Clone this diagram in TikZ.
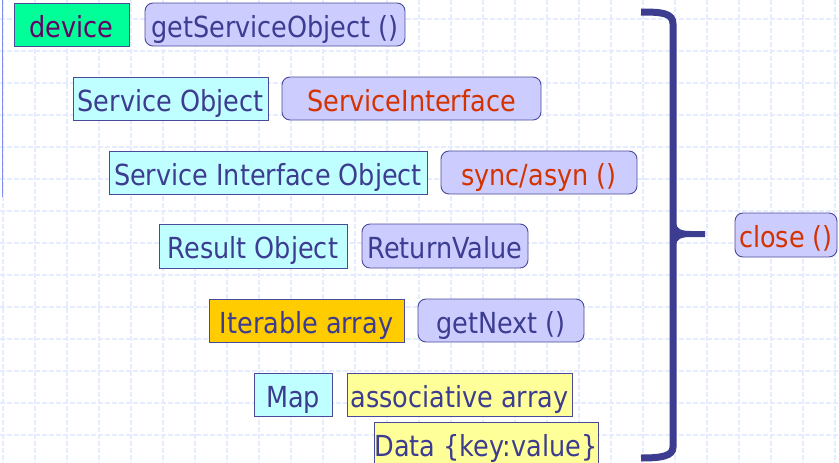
\documentclass[tikz,border=0pt]{standalone}
\usepackage{fontspec}
\setmainfont{DejaVu Sans}[FakeStretch=0.88]
\definecolor{ink}{HTML}{3C3C90}
\definecolor{edge}{HTML}{4A4A9A}
\definecolor{redtxt}{HTML}{D43300}
\definecolor{purptxt}{HTML}{660066}
\definecolor{mint}{HTML}{00FF99}
\definecolor{lav}{HTML}{CCCCFF}
\definecolor{aqua}{HTML}{C0FFFF}
\definecolor{amber}{HTML}{FFCC00}
\definecolor{lemon}{HTML}{FFFF99}
\definecolor{gridc}{HTML}{E6ECFF}
\definecolor{rule}{HTML}{7F8FF0}
\tikzset{
  box/.style={draw=edge, line width=0.9pt, inner sep=0pt, minimum height=43pt,
    text height=25pt, text depth=0pt, font=\fontsize{29}{31}\selectfont, text=ink},
  objbox/.style={box, fill=aqua},
  callbox/.style={box, fill=lav, rounded corners=8pt},
  databox/.style={box, fill=lemon},
}
\begin{document}
\begin{tikzpicture}[x=1pt,y=-1pt]
\useasboundingbox (0,0) rectangle (839,463);
% background grid
\foreach \gx in {3,35,...,835}
  \draw[gridc, line width=1.2pt, dash pattern=on 5pt off 2pt] (\gx,0) -- (\gx,463);
\foreach \gy in {19,51,...,435}
  \draw[gridc, line width=1.2pt, dash pattern=on 5pt off 2pt] (0,\gy) -- (839,\gy);
% left margin rule
\coordinate (ruletop) at (2.5,0);
\coordinate (rulebot) at (2.5,197);
\draw[rule, line width=1.4pt] (ruletop) -- (rulebot);

% rows of objects and their calls
\node[box, fill=mint, text=purptxt, minimum width=115pt] (device) at (71.5,24.5) {device};
\node[callbox, minimum width=260pt] (getso) at (275,24.5) {getServiceObject ()};

\node[objbox, minimum width=195pt] (so) at (170.5,98.5) {Service Object};
\node[callbox, text=redtxt, minimum width=259pt] (si) at (411.5,98.5) {ServiceInterface};

\node[objbox, minimum width=318pt] (sio) at (268,172.5) {Service Interface Object};
\node[callbox, text=redtxt, minimum width=196pt] (sync) at (539,172.5) {sync/asyn ()};

\node[objbox, minimum width=188pt, minimum height=44pt] (ro) at (253,246) {Result Object};
\node[callbox, minimum width=166pt, minimum height=44pt] (rv) at (445,246) {ReturnValue};

\node[box, fill=amber, minimum width=195pt] (ia) at (306.5,320.5) {Iterable array};
\node[callbox, minimum width=166pt] (gn) at (501,320.5) {getNext ()};

\node[objbox, minimum width=78pt] (map) at (293,394.5) {Map};
\node[databox, minimum width=225pt] (aa) at (459.5,394.5) {associative array};
\node[databox, minimum width=224pt] (data) at (486,443.5) {Data \{key:value\}};

\node[callbox, text=redtxt, minimum width=102pt, minimum height=44pt] (close) at (786,235) {close ()};

% brace grouping all rows
\draw[ink, line width=7pt, line cap=butt]
  (641,12) .. controls (662,12) and (673,13) .. (673,24)
  -- (673,447) .. controls (673,456) and (662,458) .. (641,458);
\draw[ink, line width=6pt, line cap=butt]
  (673,224) .. controls (674,231) and (680,234) .. (690,234) -- (705,234);
\draw[ink, line width=6pt, line cap=butt]
  (673,244) .. controls (674,237) and (680,234) .. (690,234);
\end{tikzpicture}
\end{document}
